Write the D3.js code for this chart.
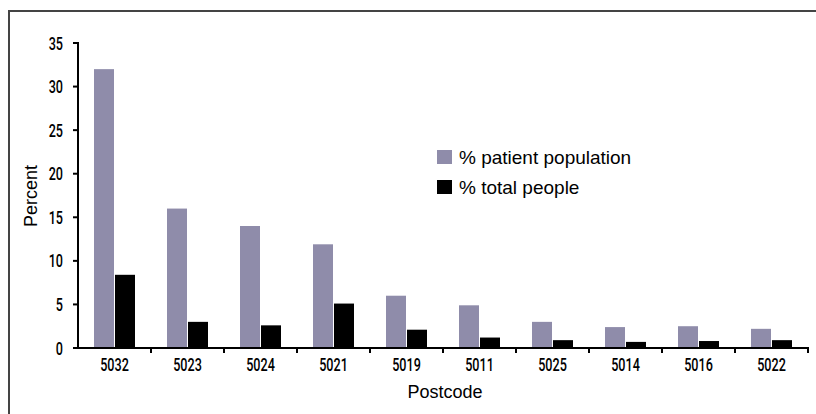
<!DOCTYPE html>
<html>
<head>
<meta charset="utf-8">
<script src="https://cdn.jsdelivr.net/npm/d3@7"></script>
<style>
  body { margin: 0; background: #fff; }
  svg { display: block; }
</style>
</head>
<body>
<svg width="816" height="414"></svg>
<script>
// Data
const postcodes = ["5032", "5023", "5024", "5021", "5019", "5011", "5025", "5014", "5016", "5022"];
const patientPct = [32.0, 16.0, 14.0, 11.9, 6.0, 4.9, 3.0, 2.4, 2.5, 2.2];
const totalPct = [8.4, 3.0, 2.6, 5.1, 2.1, 1.2, 0.9, 0.7, 0.8, 0.9];
const seriesNames = ["% patient population", "% total people"];
const seriesColors = ["#8f8caa", "#000000"];
const yTicks = [0, 5, 10, 15, 20, 25, 30, 35];

const svg = d3.select("svg");
const sans = "'Liberation Sans', Arial, sans-serif";

// outer frame (only top and left edges visible)
svg.append("path")
    .attr("d", "M9,414 V11 H816")
    .attr("fill", "none")
    .attr("stroke", "#444")
    .attr("stroke-width", 2);

const x0 = 78, x1 = 808, y0 = 348, y1 = 43;

const x = d3.scaleBand()
    .domain(postcodes)
    .range([x0, x1]);

const y = d3.scaleLinear()
    .domain([0, 35])
    .range([y0, y1]);

const barW = 20, gap = 1;

const g = svg.append("g");

// bars
postcodes.forEach((p, i) => {
    const cx = x(p) + x.bandwidth() / 2;
    [patientPct[i], totalPct[i]].forEach((v, s) => {
        g.append("rect")
            .attr("x", s === 0 ? cx - barW - gap / 2 : cx + gap / 2)
            .attr("y", y(v))
            .attr("width", barW)
            .attr("height", y0 - y(v))
            .attr("fill", seriesColors[s]);
    });
});

// condensed tick labels: squeeze a medium sans horizontally
const squeeze = 0.7;
function narrowText(sel, px, py, anchor) {
    sel.attr("transform", `translate(${px},${py}) scale(${squeeze},1)`)
        .attr("text-anchor", anchor)
        .style("font-family", "Roboto, " + sans)
        .style("font-weight", 500)
        .style("font-size", "18px")
        .attr("fill", "#000");
}

// y axis
svg.append("line")
    .attr("x1", x0).attr("x2", x0)
    .attr("y1", y1 - 1).attr("y2", y0 + 1)
    .attr("stroke", "#000").attr("stroke-width", 2);
yTicks.forEach(t => {
    svg.append("line")
        .attr("x1", x0 - 5).attr("x2", x0)
        .attr("y1", y(t)).attr("y2", y(t))
        .attr("stroke", "#000").attr("stroke-width", 2);
    svg.append("text")
        .text(t)
        .call(narrowText, 63, y(t) + 6.5, "end");
});

// x axis: ticks at category boundaries
const boundaries = postcodes.map(p => x(p) + x.bandwidth());
svg.append("line")
    .attr("x1", x0 - 1).attr("x2", x1 + 1)
    .attr("y1", y0).attr("y2", y0)
    .attr("stroke", "#000").attr("stroke-width", 2);
boundaries.forEach(b => {
    svg.append("line")
        .attr("x1", b).attr("x2", b)
        .attr("y1", y0).attr("y2", y0 + 5)
        .attr("stroke", "#000").attr("stroke-width", 2);
});
postcodes.forEach(p => {
    svg.append("text")
        .text(p)
        .call(narrowText, x(p) + x.bandwidth() / 2, 371, "middle");
});

// axis titles
svg.append("text")
    .attr("x", 445)
    .attr("y", 398)
    .attr("text-anchor", "middle")
    .style("font-family", sans)
    .style("font-size", "18px")
    .text("Postcode");

svg.append("text")
    .attr("transform", "translate(37,196) rotate(-90)")
    .attr("text-anchor", "middle")
    .style("font-family", sans)
    .style("font-size", "18px")
    .text("Percent");

// legend
const legend = svg.append("g").attr("transform", "translate(437,150)");
seriesNames.forEach((name, i) => {
    legend.append("rect")
        .attr("x", 0).attr("y", i * 30)
        .attr("width", 15).attr("height", 14)
        .attr("fill", seriesColors[i]);
    legend.append("text")
        .attr("x", 22).attr("y", i * 30 + 14)
        .style("font-family", sans)
        .style("font-size", "19px")
        .text(name);
});
</script>
</body>
</html>
